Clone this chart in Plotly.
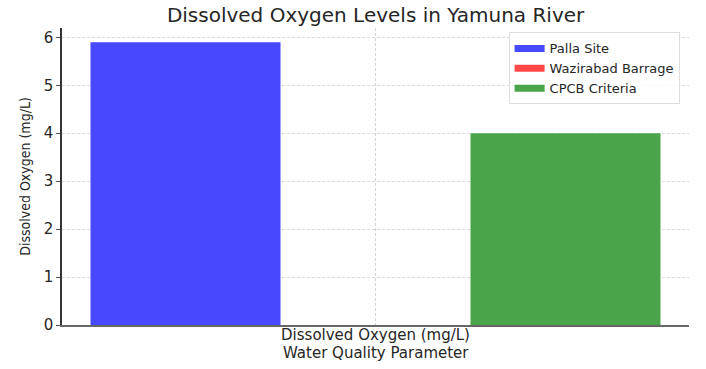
import plotly.graph_objects as go

categories = ["Dissolved Oxygen (mg/L)"]
series_names = ["Palla Site", "Wazirabad Barrage", "CPCB Criteria"]
series_values = [[5.9], [0.0], [4.0]]
series_colors = ["rgb(72,72,255)", "rgb(255,72,72)", "rgb(74,165,74)"]
y_ticks = [0, 1, 2, 3, 4, 5, 6]
x_title = "Water Quality Parameter"

fig = go.Figure()
for name, vals, col in zip(series_names, series_values, series_colors):
    fig.add_trace(go.Bar(x=categories, y=vals, name=name, marker=dict(color=col, line=dict(width=0)),
                         showlegend=False))
for name, col in zip(series_names, series_colors):
    fig.add_trace(go.Scatter(x=[None], y=[None], mode="lines", name=name,
                             line=dict(color=col, width=7)))

font = "DejaVu Sans, Verdana, sans-serif"
fig.update_layout(
    width=706, height=369,
    margin=dict(l=62, r=17, t=28, b=44),
    paper_bgcolor="white", plot_bgcolor="white",
    barmode="group", bargap=0.25, bargroupgap=0,
    title=dict(text="Dissolved Oxygen Levels in Yamuna River", x=0.532, xanchor="center",
               y=0.958, yanchor="middle", font=dict(family=font, size=20, color="#262626")),
    font=dict(family=font, size=15, color="#262626"),
    legend=dict(x=0.985, xanchor="right", y=0.985, yanchor="top",
                bgcolor="rgba(255,255,255,0.8)", bordercolor="#dddddd", borderwidth=1,
                font=dict(size=13, family=font, color="#262626"),
                itemwidth=30, tracegroupgap=0),
    xaxis=dict(range=[-0.4125, 0.4125], showline=True, linecolor="#666666", linewidth=1.5,
               ticks="", automargin=False, ticklabelstandoff=-5,
               showgrid=True, gridcolor="#d4d4d4", griddash="3px,2px", gridwidth=0.8,
               tickfont=dict(size=15), zeroline=False),
    yaxis=dict(range=[0, 6.195], tickvals=y_ticks, showline=True, linecolor="#333333", linewidth=1.5,
               ticks="outside", ticklen=4, tickcolor="#555555", automargin=False,
               showgrid=True, gridcolor="#dcdcdc", griddash="3px,2px", gridwidth=0.8,
               tickfont=dict(size=15),
               title=dict(text="Dissolved Oxygen (mg/L)", standoff=10,
                          font=dict(size=14, family="DejaVu Sans Condensed, DejaVu Sans, sans-serif")),
               zeroline=False),
    annotations=[dict(text=x_title, xref="paper", yref="paper", x=0.5, y=0,
                      xanchor="center", yanchor="middle", yshift=-28, showarrow=False,
                      font=dict(size=15, family=font, color="#262626"))],
)
fig.write_html("out.html", config={"displayModeBar": False},
               post_script="document.body.style.margin='0';")
